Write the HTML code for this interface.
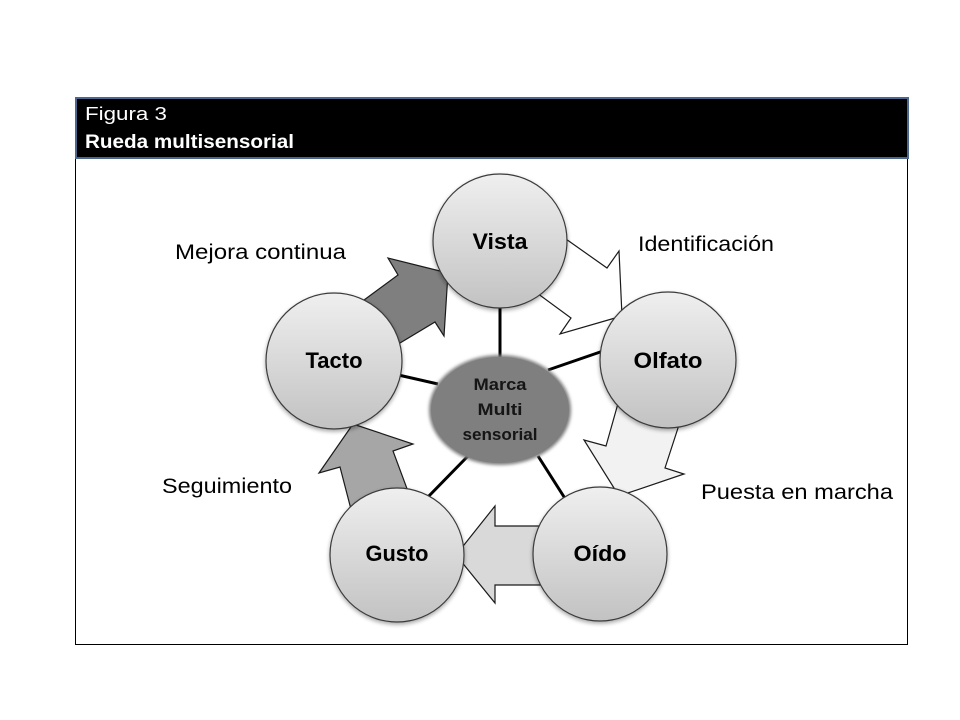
<!DOCTYPE html>
<html>
<head>
<meta charset="utf-8">
<style>
  html, body { margin: 0; padding: 0; background: #ffffff; }
  svg { display: block; }
</style>
</head>
<body>
<svg width="960" height="720" viewBox="0 0 960 720" xmlns="http://www.w3.org/2000/svg">
  <defs>
    <linearGradient id="cg" x1="0" y1="0" x2="0" y2="1">
      <stop offset="0" stop-color="#efefef"/>
      <stop offset="1" stop-color="#c2c2c2"/>
    </linearGradient>
    <filter id="soft" x="-20%" y="-20%" width="140%" height="140%">
      <feGaussianBlur stdDeviation="1.6"/>
    </filter>
    <filter id="shadow" x="-20%" y="-20%" width="140%" height="150%">
      <feGaussianBlur in="SourceAlpha" stdDeviation="2"/>
      <feOffset dx="0" dy="2" result="o"/>
      <feComponentTransfer><feFuncA type="linear" slope="0.35"/></feComponentTransfer>
      <feMerge><feMergeNode/><feMergeNode in="SourceGraphic"/></feMerge>
    </filter>
  </defs>

  <rect x="0" y="0" width="960" height="720" fill="#ffffff"/>

  <!-- outer body box -->
  <rect x="75.5" y="98.5" width="832" height="546" fill="#ffffff" stroke="#000000" stroke-width="1"/>

  <!-- header -->
  <rect x="76" y="98" width="832" height="60" fill="#000000" stroke="#4a6890" stroke-width="2"/>
  <text x="85" y="120" font-family="Liberation Sans, sans-serif" font-size="18" fill="#ffffff" textLength="82" lengthAdjust="spacingAndGlyphs">Figura  3</text>
  <text x="85" y="148" font-family="Liberation Sans, sans-serif" font-size="19" font-weight="bold" fill="#ffffff" textLength="209" lengthAdjust="spacingAndGlyphs">Rueda multisensorial</text>

  <!-- connector lines -->
  <g stroke="#000000" stroke-width="3">
    <line x1="500" y1="300" x2="500" y2="360"/>
    <line x1="606" y1="350" x2="548" y2="370"/>
    <line x1="394" y1="374" x2="438" y2="384"/>
    <line x1="425" y1="500" x2="468" y2="456"/>
    <line x1="566" y1="500" x2="538" y2="456"/>
  </g>

  <!-- block arrows -->
  <g stroke="#1a1a1a" stroke-width="1.2" stroke-linejoin="miter">
    <!-- Tacto -> Vista -->
    <polygon points="345,314 398,275 388,258 448,273 444,336 435,322 375,358" fill="#7f7f7f"/>
    <!-- Vista -> Olfato -->
    <polygon points="539,220 607,268 619,251 622,316 560,334 571,318 511,274" fill="#ffffff"/>
    <!-- Olfato -> Oido -->
    <polygon points="628,368 606,446 584,440 619,496 684,474 665,468 691,388" fill="#f2f2f2"/>
    <!-- Oido -> Gusto -->
    <polygon points="560,526 495,526 495,506 456,555 495,603 495,585 560,585" fill="#d9d9d9"/>
    <!-- Gusto -> Tacto -->
    <polygon points="360,544 340,467 319,473 353,424 413,444 393,451 419,521" fill="#a6a6a6"/>
  </g>

  <!-- circles -->
  <g fill="url(#cg)" stroke="#3a3a3a" stroke-width="1.2" filter="url(#shadow)">
    <circle cx="500" cy="241" r="67"/>
    <circle cx="668" cy="360" r="68"/>
    <circle cx="334" cy="361" r="68"/>
    <circle cx="397" cy="555" r="67"/>
    <circle cx="600" cy="554" r="67"/>
  </g>

  <!-- center ellipse -->
  <ellipse cx="500" cy="410" rx="71" ry="55" fill="#7f7f7f" filter="url(#soft)"/>
  <ellipse cx="500" cy="410" rx="69" ry="53" fill="#7f7f7f"/>

  <!-- node labels -->
  <g font-family="Liberation Sans, sans-serif" font-weight="bold" font-size="22" fill="#000000" text-anchor="middle">
    <text x="500" y="249" textLength="55" lengthAdjust="spacingAndGlyphs">Vista</text>
    <text x="668" y="368" textLength="69" lengthAdjust="spacingAndGlyphs">Olfato</text>
    <text x="334" y="368" textLength="57" lengthAdjust="spacingAndGlyphs">Tacto</text>
    <text x="397" y="561" textLength="63" lengthAdjust="spacingAndGlyphs">Gusto</text>
    <text x="600" y="561" textLength="53" lengthAdjust="spacingAndGlyphs">Oído</text>
  </g>

  <g font-family="Liberation Sans, sans-serif" font-weight="bold" font-size="17" fill="#151515" text-anchor="middle">
    <text x="500" y="390" textLength="53" lengthAdjust="spacingAndGlyphs">Marca</text>
    <text x="500" y="415" textLength="45" lengthAdjust="spacingAndGlyphs">Multi</text>
    <text x="500" y="440" textLength="75" lengthAdjust="spacingAndGlyphs">sensorial</text>
  </g>

  <!-- outer labels -->
  <g font-family="Liberation Sans, sans-serif" font-size="21" fill="#000000">
    <text x="175" y="259" textLength="171" lengthAdjust="spacingAndGlyphs">Mejora continua</text>
    <text x="638" y="251" textLength="136" lengthAdjust="spacingAndGlyphs">Identificación</text>
    <text x="162" y="493" textLength="130" lengthAdjust="spacingAndGlyphs">Seguimiento</text>
    <text x="701" y="499" textLength="192" lengthAdjust="spacingAndGlyphs">Puesta en marcha</text>
  </g>
</svg>
</body>
</html>
